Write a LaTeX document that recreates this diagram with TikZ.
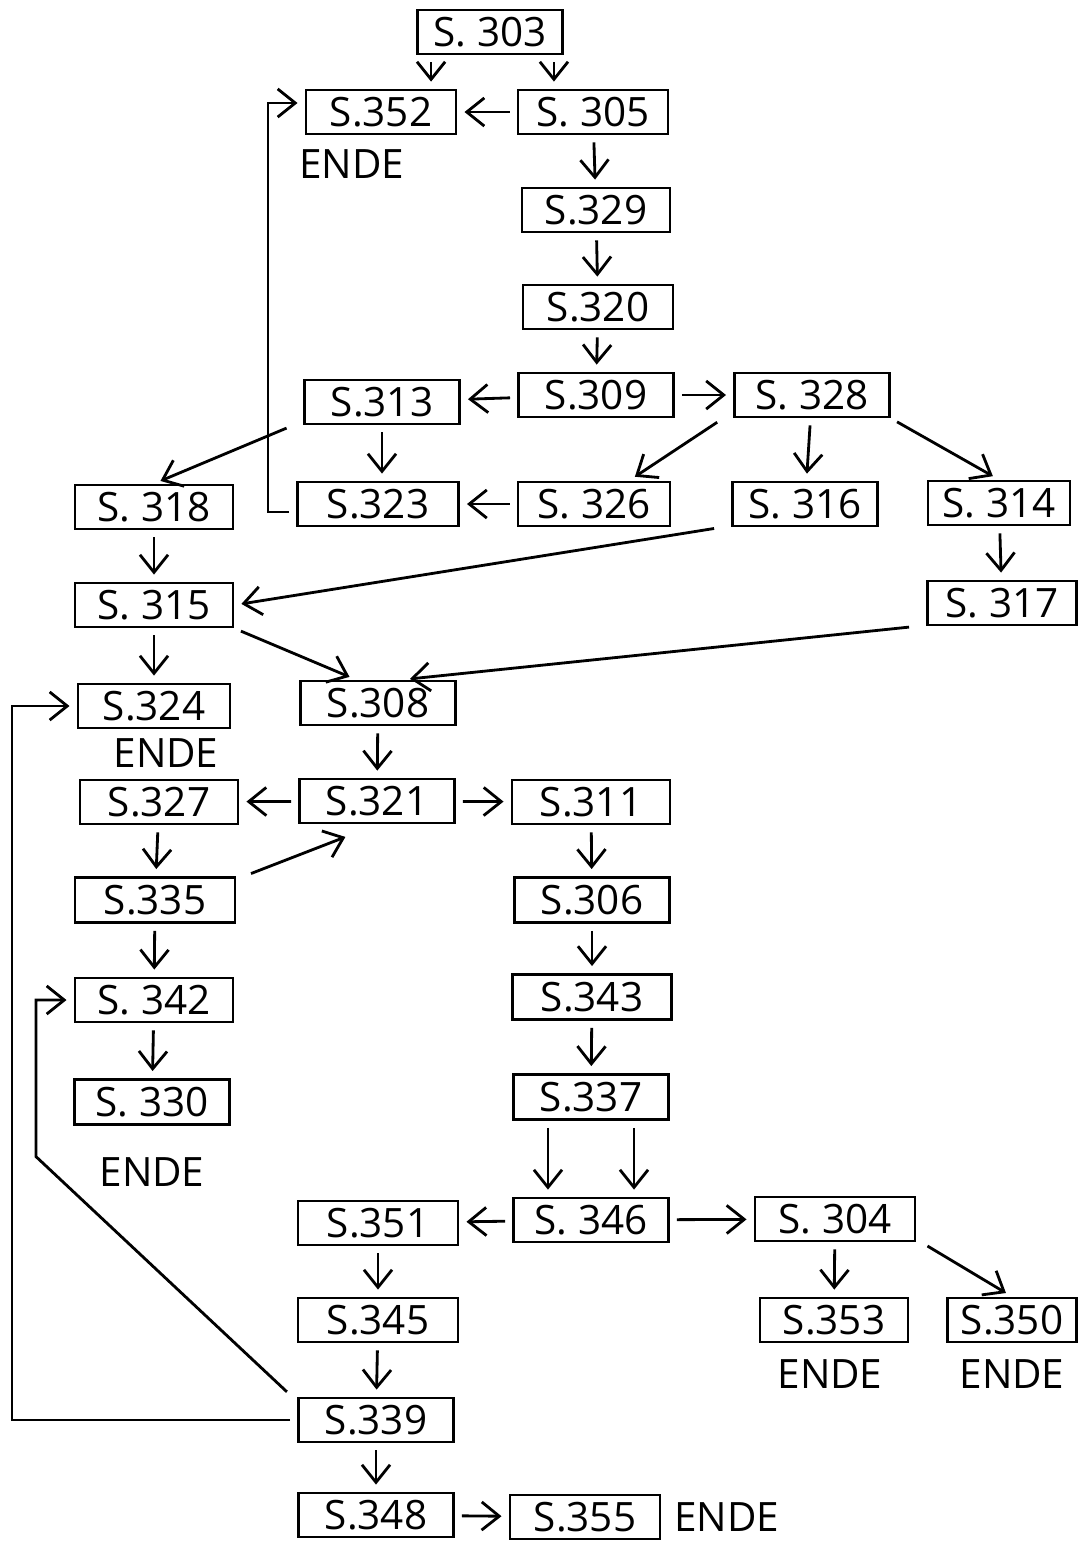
\documentclass[tikz,border=0pt]{standalone}
\usepackage{fontspec}
\setmainfont{Open Sans}
\usepackage{tikz}
\usetikzlibrary{positioning}
\usetikzlibrary{arrows.meta}
\tikzstyle{arrow} = [thick,->,>={Straight Barb[length=5pt,width=8pt]},shorten >=2pt,shorten <=2pt]
\tikzstyle{page} = [draw,thick,minimum width=1.55cm,minimum height=0.42cm,inner sep=2pt]
\tikzstyle{ende} = [inner sep=0pt]

\begin{document}
\begin{tikzpicture}[x=0.01cm,y=-0.01cm,font=\fontsize{11.5}{13}\selectfont]
	\path[fill=white,use as bounding box] (0,0) rectangle (1083,1544);
	
	%Nodes
	\node [page,minimum width=1.45cm,minimum height=0.37cm] (S303) at (490,32) {S. 303};
	\node [page,minimum width=1.5cm] (S352) at (381,112) {S.352};
	\node [page,minimum width=1.5cm] (S305) at (593,112) {S. 305};
	\node [page,minimum width=1.48cm] (S329) at (596,210) {S.329};
	\node [page,minimum width=1.5cm] (S320) at (598,307) {S.320};
	\node [page] (S309) at (596,395) {S.309};
	\node [page] (S313) at (382,402) {S.313};
	\node [page] (S328) at (812,395) {S. 328};
	\node [page,minimum width=1.58cm] (S318) at (154,507) {S. 318};
	\node [page,minimum width=1.61cm] (S323) at (378,504) {S.323};
	\node [page,minimum width=1.52cm] (S326) at (594,504) {S. 326};
	\node [page,minimum width=1.45cm] (S316) at (805,504) {S. 316};
	\node [page,minimum width=1.42cm] (S314) at (999,503) {S. 314};
	\node [page,minimum width=1.58cm] (S315) at (154,605) {S. 315};
	\node [page,minimum width=1.49cm] (S317) at (1002,603) {S. 317};
	\node [page,minimum width=1.52cm] (S324) at (154,706) {S.324};
	\node [page] (S308) at (378,703) {S.308};
	\node [page,minimum width=1.58cm] (S327) at (159,802) {S.327};
	\node [page] (S321) at (377,801) {S.321};
	\node [page,minimum width=1.58cm] (S311) at (591,802) {S.311};
	\node [page,minimum width=1.6cm,minimum height=0.45cm] (S335) at (155,900) {S.335};
	\node [page,minimum height=0.45cm] (S306) at (592,900) {S.306};
	\node [page,minimum width=1.58cm,minimum height=0.44cm] (S342) at (154,1000) {S. 342};
	\node [page,minimum width=1.59cm,minimum height=0.45cm] (S343) at (592,997) {S.343};
	\node [page,minimum height=0.45cm] (S330) at (152,1102) {S. 330};
	\node [page,minimum height=0.45cm] (S337) at (591,1097) {S.337};
	\node [page,minimum width=1.6cm] (S351) at (378,1223) {S.351};
	\node [page] (S346) at (591,1220) {S. 346};
	\node [page,minimum width=1.6cm] (S304) at (835,1219) {S. 304};
	\node [page,minimum width=1.6cm] (S345) at (378,1320) {S.345};
	\node [page,minimum width=1.48cm] (S353) at (834,1320) {S.353};
	\node [page,minimum width=1.29cm] (S350) at (1012,1320) {S.350};
	\node [page] (S339) at (376,1420) {S.339};
	\node [page] (S348) at (376,1515) {S.348};
	\node [page,minimum width=1.5cm] (S355) at (585,1517) {S.355};
	
	%Ende
	\node [ende,below=0.14cm of S352,xshift=-0.29cm] (E352) {ENDE};
	\node [ende,below=0.09cm of S324,xshift=0.12cm] (E324) {ENDE};
	\node [ende,below=0.31cm of S330] (E330) {ENDE};
	\node [ende,below=0.16cm of S353,xshift=-0.04cm] (E353) {ENDE};
	\node [ende,below=0.16cm of S350] (E350) {ENDE};
	\node [ende,right=0.12cm of S355] (E355) {ENDE};
	
	%Lines
	\draw[arrow] ([xshift=0.15cm]S303.south west) -- ([xshift=0.15cm]S303.south west |- S352.north);
	\draw[arrow] ([xshift=-0.1cm]S303.south east) -- ([xshift=-0.1cm]S303.south east |- S305.north);
	\draw[arrow] (S305) -- (S352);
	\draw[arrow] (S305) -- (S329);
	\draw[arrow] (S329) -- (S320);
	\draw[arrow] (S320) -- (S309);
	\draw[arrow] (S309) -- (S313);
	\draw[arrow] (S309) -- (S328);
	\draw[arrow] ([xshift=-0.1cm]S313.south west) -- (S318.north);
	\draw[arrow] (S313.south) -- (S313.south |- S323.north);
	\draw[arrow] (S326) -- (S323);
	\draw[arrow] ([yshift=-0.08cm]S323.west) -- ++(-28,0) |- ([yshift=0.09cm]S352.west);
	\draw[arrow] ([xshift=-0.1cm]S328.south west) -- ([xshift=0.35cm]S326.north);
	\draw[arrow] (S328) -- (S316);
	\draw[arrow] (S328.south east) -- (S314.north);
	\draw[arrow] ([xshift=-0.1cm]S316.south west) -- (S315.east);
	\draw[arrow] (S318) -- (S315);
	\draw[arrow] (S314) -- (S317);
	\draw[arrow] (S315) -- (S324);
	\draw[arrow] (S315.south east) -- ([xshift=-0.22cm]S308.north);
	\draw[arrow] ([xshift=-0.1cm]S317.south west) -- ([xshift=0.25cm]S308.north);
	\draw[arrow] (S339.west) -- ++(-285,0) |- (S324.west);
	\draw[arrow] (S308) -- (S321);
	\draw[arrow] (S321) -- (S327);
	\draw[arrow] (S321) -- (S311);
	\draw[arrow] (S327) -- (S335);
	\draw[arrow] ([xshift=0.08cm]S335.north east) -- ([xshift=-0.25cm,yshift=-0.1cm]S321.south);
	\draw[arrow] (S311) -- (S306);
	\draw[arrow] (S335) -- (S342);
	\draw[arrow] ([xshift=-0.05cm]S339.north west) -- ++(-256,-240) |- (S342.west);
	\draw[arrow] (S342) -- (S330);
	\draw[arrow] (S306) -- (S343);
	\draw[arrow] (S343) -- (S337);
	\draw[arrow] ([xshift=-0.43cm]S337.south) -- ([xshift=-0.43cm]S346.north);
	\draw[arrow] ([xshift=0.43cm]S337.south) -- ([xshift=0.43cm]S346.north);
	\draw[arrow] (S346) -- (S351);
	\draw[arrow] (S346) -- (S304);
	\draw[arrow] (S304) -- (S353);
	\draw[arrow] ([xshift=0.05cm]S304.south east) -- (S350.north);
	\draw[arrow] (S351) -- (S345);
	\draw[arrow] (S345) -- (S339);
	\draw[arrow] (S339) -- (S348);
	\draw[arrow] (S348) -- (S355);
	
\end{tikzpicture}
\end{document}
